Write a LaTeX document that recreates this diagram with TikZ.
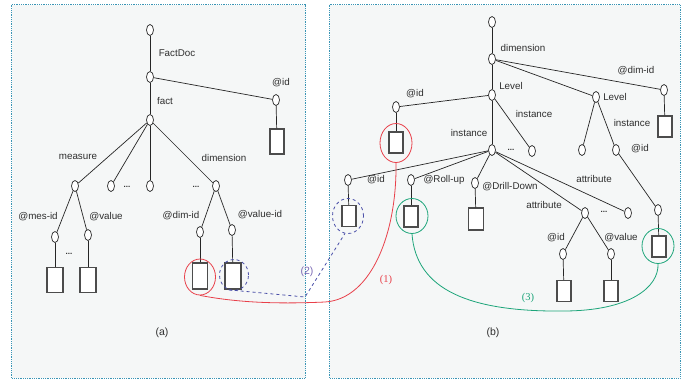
\documentclass[tikz,border=0pt]{standalone}
\usepackage{fontspec}
\setmainfont{Liberation Sans}
\newfontfamily\numfont{Liberation Serif}
\usetikzlibrary{shapes.geometric}
\definecolor{frame}{HTML}{3A95B5}
\definecolor{panel}{HTML}{F5F7F7}
\definecolor{txt}{HTML}{2E2E2E}
\definecolor{redlink}{HTML}{E8404A}
\definecolor{bluelink}{HTML}{4A4FA8}
\definecolor{purplelbl}{HTML}{7A68B4}
\definecolor{greenlink}{HTML}{1DA57A}
\begin{document}
\begin{tikzpicture}[x=1pt,y=-1pt,line width=0.7pt,
  v/.style={draw=black!85,ellipse,minimum width=7pt,minimum height=11pt,inner sep=0pt,fill=white},
  leaf/.style={draw=black!70,line width=1.1pt,fill=white,minimum width=14pt,minimum height=21pt,inner sep=0pt},
  lbl/.style={text=txt,inner sep=0pt,font=\fontsize{9.8}{11}\selectfont},
  dots/.style={text=txt,inner sep=0pt,font=\bfseries\fontsize{8}{9}\selectfont},
  ring/.style={draw,ellipse,inner sep=0pt,line width=0.8pt},
  e/.style={draw=black!85}]
\useasboundingbox (0,0) rectangle (693,381);
\filldraw[fill=panel,draw=frame,densely dotted,line width=0.8pt] (11.5,4.5) rectangle (305.5,378);
\filldraw[fill=panel,draw=frame,densely dotted,line width=0.8pt] (329.5,4.5) rectangle (680,378);

% (a) fact document
\node[v] (fRoot) at (150,30) {};
\node[v] (fDoc) at (150,77) {};
\node[v] (fFact) at (150,120) {};
\node[v] (fId) at (276,100) {};
\node[leaf,minimum height=25pt] (fIdBox) at (277,141.5) {};
\node[v] (fMeas) at (75,186) {};
\node[v] (fC2) at (111,186) {};
\node[v] (fC3) at (150,186) {};
\node[v] (fDim) at (216,186) {};
\node[v] (fMesId) at (55,237) {};
\node[v] (fVal) at (88,235) {};
\node[leaf,minimum width=16pt,minimum height=25pt] (fMesIdBox) at (55,280) {};
\node[leaf,minimum width=16pt,minimum height=25pt] (fValBox) at (88,280) {};
\node[v] (fDimId) at (200,232) {};
\node[v] (fValId) at (232,230) {};
\node[leaf,minimum width=15pt,minimum height=26pt] (fDimIdBox) at (200,276) {};
\node[leaf,minimum width=16pt,minimum height=26pt] (fValIdBox) at (233,276) {};
\draw[e] (fRoot) -- (fDoc);
\draw[e] (fDoc) -- (fFact);
\draw[e] (fDoc) -- (fId);
\draw[e] (fId) -- (fIdBox);
\foreach \c in {fMeas,fC2,fC3,fDim} \draw[e] (fFact) -- (\c);
\draw[e] (fMeas) -- (fMesId);
\draw[e] (fMeas) -- (fVal);
\draw[e] (fMesId) -- (fMesIdBox);
\draw[e] (fVal) -- (fValBox);
\draw[e] (fDim) -- (fDimId);
\draw[e] (fDim) -- (fValId);
\draw[e] (fDimId) -- (fDimIdBox);
\draw[e] (fValId) -- (fValIdBox);
\node[lbl] at (177,53) {FactDoc};
\node[lbl] at (165,101) {fact};
\node[lbl] at (281,83) {@id};
\node[lbl] at (78,157) {measure};
\node[lbl] at (224,158) {dimension};
\node[dots] at (127,187) {...};
\node[dots] at (196,187) {...};
\node[lbl] at (38,217) {@mes-id};
\node[lbl] at (106,217) {@value};
\node[dots] at (69,254) {...};
\node[lbl] at (181,216) {@dim-id};
\node[lbl] at (260,215) {@value-id};
\node[lbl,font=\fontsize{10.5}{12}\selectfont] at (162,333) {(a)};
\node[ring,draw=redlink,minimum width=31pt,minimum height=36pt] (ringA) at (200,277) {};
\node[ring,draw=bluelink,dashed,minimum width=29pt,minimum height=31pt] (ringB) at (234,275) {};

% (b) dimension document
\node[v] (dRoot) at (492,22) {};
\node[v] (dDim) at (492,59) {};
\node[v] (dDimId) at (664,90) {};
\node[leaf] (dDimIdBox) at (665,126.5) {};
\node[v] (dLvl) at (492,95) {};
\node[v] (dLvl2) at (596,97) {};
\node[v] (dLvlId) at (396,107) {};
\node[leaf] (dLvlIdBox) at (396,142.5) {};
\node[v] (dInst) at (492,150) {};
\node[v] (dInst2) at (532,151) {};
\node[v] (dL2a) at (582,150) {};
\node[v] (dL2b) at (616,150) {};
\node[v] (dL2bId) at (658,210) {};
\node[leaf] (dL2bBox) at (659,246.5) {};
\node[v] (dId) at (348,180) {};
\node[v] (dRoll) at (411,180) {};
\node[v] (dDrill) at (475,183) {};
\node[v] (dAttr) at (585,213) {};
\node[v] (dAttr2) at (628,213) {};
\node[leaf] (dIdBox) at (349,216) {};
\node[leaf] (dRollBox) at (411,216.5) {};
\node[leaf,minimum width=15pt,minimum height=22pt] (dDrillBox) at (476,219) {};
\node[v] (dAId) at (563,254) {};
\node[v] (dAVal) at (611,254) {};
\node[leaf] (dAIdBox) at (564,291) {};
\node[leaf] (dAValBox) at (611,291) {};
\draw[e] (dRoot) -- (dDim);
\draw[e] (dDim) -- (dLvl);
\draw[e] (dDim) -- (dLvl2);
\draw[e] (dDim) -- (dDimId);
\draw[e] (dDimId) -- (dDimIdBox);
\draw[e] (dLvl) -- (dLvlId);
\draw[e] (dLvlId) -- (dLvlIdBox);
\draw[e] (dLvl) -- (dInst);
\draw[e] (dLvl) -- (dInst2);
\draw[e] (dLvl2) -- (dL2a);
\draw[e] (dLvl2) -- (dL2b);
\draw[e] (dL2b) -- (dL2bId);
\draw[e] (dL2bId) -- (dL2bBox);
\foreach \c in {dId,dRoll,dDrill,dAttr,dAttr2} \draw[e] (dInst) -- (\c);
\draw[e] (dId) -- (dIdBox);
\draw[e] (dRoll) -- (dRollBox);
\draw[e] (dDrill) -- (dDrillBox);
\draw[e] (dAttr) -- (dAId);
\draw[e] (dAttr) -- (dAVal);
\draw[e] (dAId) -- (dAIdBox);
\draw[e] (dAVal) -- (dAValBox);
\node[lbl] at (523,48) {dimension};
\node[lbl] at (636,71) {@dim-id};
\node[lbl] at (511,86) {Level};
\node[lbl] at (615,97) {Level};
\node[lbl] at (415,94) {@id};
\node[lbl] at (534,114) {instance};
\node[lbl] at (469,133) {instance};
\node[lbl] at (632,123) {instance};
\node[lbl] at (640,149) {@id};
\node[dots] at (511,150) {...};
\node[lbl] at (376,180) {@id};
\node[lbl] at (444,180) {@Roll-up};
\node[lbl] at (510,187) {@Drill-Down};
\node[lbl] at (594,179) {attribute};
\node[lbl] at (544,205) {attribute};
\node[dots] at (604,212) {...};
\node[lbl] at (556,238) {@id};
\node[lbl] at (621,238) {@value};
\node[lbl,font=\fontsize{10.5}{12}\selectfont] at (493,333) {(b)};
\node[ring,draw=redlink,minimum width=32pt,minimum height=39pt] (ringC) at (396,143) {};
\node[ring,draw=bluelink,dashed,minimum width=31pt,minimum height=35pt] (ringD) at (348,216) {};
\node[ring,draw=greenlink,minimum width=32pt,minimum height=35pt] (ringE) at (412,216) {};
\node[ring,draw=greenlink,minimum width=32pt,minimum height=35pt] (ringF) at (658,246) {};

% links
\coordinate (bend) at (305,297);
\draw[redlink,line width=0.8pt] (ringA.south) .. controls (240,303) and (280,304) .. (325,302)
  .. controls (372,299) and (397,232) .. (ringC.south);
\draw[bluelink,dashed,line width=0.8pt] (ringB.250) -- (bend) -- (ringD.260);
\draw[greenlink,line width=0.8pt] (ringE.south) .. controls (416,290) and (470,312) .. (563,311)
  .. controls (630,311) and (659,287) .. (ringF.south);
\node[text=redlink,inner sep=0pt,font=\numfont\fontsize{10.5}{12}\selectfont] (lblOne) at (386,280) {(1)};
\node[text=purplelbl,inner sep=0pt,font=\fontsize{10.5}{12}\selectfont] (lblTwo) at (307,272) {(2)};
\node[text=greenlink,inner sep=0pt,font=\numfont\fontsize{10.5}{12}\selectfont] (lblThree) at (528,298) {(3)};
\end{tikzpicture}
\end{document}
